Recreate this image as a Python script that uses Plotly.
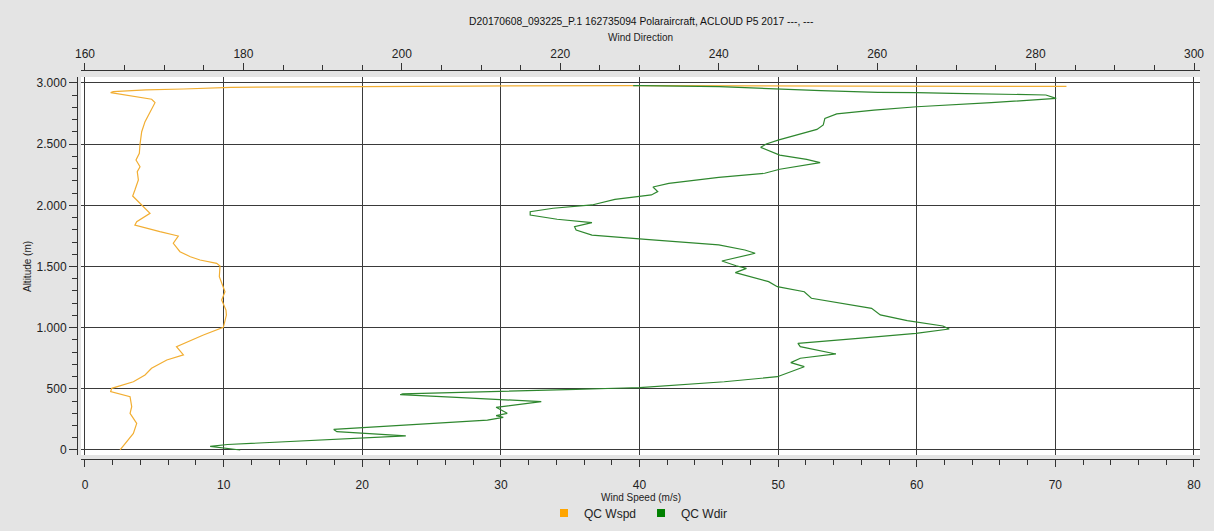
import plotly.graph_objects as go

# ---------------- data ----------------
wspd_alt = [0, 68, 136, 218, 300, 354, 436, 477, 504, 558, 613, 668, 736, 777, 845, 940,
            1003, 1103, 1144, 1226, 1294, 1417, 1504, 1526, 1553, 1580, 1621, 1690, 1749,
            1785, 1839, 1866, 1935, 2003, 2076, 2125, 2207, 2275, 2316, 2371, 2425, 2501,
            2602, 2684, 2766, 2839, 2867, 2894, 2921, 2929, 2943, 2951, 2965, 2975, 2978,
            2975, 2972]
wspd = [2.53, 3.0, 3.49, 3.73, 3.25, 3.37, 3.25, 1.85, 1.93, 3.49, 4.33, 4.8, 5.9, 7.1, 6.6,
        8.54, 9.98, 10.2, 10.17, 9.86, 10.1, 9.69, 9.74, 9.5, 8.3, 7.6, 6.85, 6.37, 6.73,
        5.4, 3.6, 3.73, 4.69, 4.09, 3.44, 3.6, 3.85, 3.77, 3.97, 3.68, 3.92, 3.97,
        4.09, 4.33, 4.69, 5.05, 4.81, 3.25, 1.85, 2.04, 4.4, 7.1, 10.5, 27.8, 39.3,
        55.0, 70.8]

wdir_alt = [0, 30, 45, 115, 150, 168, 245, 267, 281, 300, 349, 395, 431, 452, 458, 477, 496,
            507, 510, 558, 599, 681, 714, 750, 785, 845, 872, 913, 954, 989, 1014, 1057,
            1104, 1158, 1240, 1294, 1335, 1376, 1422, 1450, 1485, 1506, 1545, 1567, 1608,
            1635, 1676, 1722, 1757, 1798, 1825, 1858, 1886, 1921, 1948, 1976, 2003, 2049,
            2085, 2112, 2150, 2180, 2229, 2262, 2295, 2349, 2376, 2411, 2474, 2501, 2535,
            2621, 2657, 2711, 2747, 2779, 2806, 2839, 2874, 2902, 2910, 2916, 2921, 2924,
            2937, 2956, 2970, 2978, 2978]
wdir = [179.6, 175.8, 178.0, 200.5, 191.8, 191.4, 210.8, 212.8, 211.9, 213.3, 211.9, 217.6,
        206.9, 199.8, 200.1, 213.0, 222.0, 228.0, 230.0, 240.7, 247.4, 250.8, 249.1, 250.3,
        254.8, 250.3, 250.0, 257.6, 264.9, 269.1, 268.3, 263.8, 260.4, 259.3, 251.7, 250.8,
        247.4, 246.3, 243.5, 242.1, 243.5, 242.2, 240.4, 241.9, 244.6, 243.3, 240.0, 230.8,
        224.0, 222.0, 221.8, 224.0, 219.6, 216.2, 216.2, 219.1, 224.0, 226.9, 231.5, 232.3,
        231.7, 233.7, 240.0, 245.8, 247.7, 252.8, 251.1, 247.7, 245.3, 246.0, 247.6, 252.4,
        253.2, 253.4, 254.9, 259.6, 265.0, 274.4, 282.6, 281.3, 276.4, 269.5, 265.0, 260.1,
        252.9, 244.8, 240.1, 230.2, 229.2]

alt_ticks = [0, 500, 1000, 1500, 2000, 2500, 3000]
alt_ticktext = ["0", "500", "1.000", "1.500", "2.000", "2.500", "3.000"]

title_text = "D20170608_093225_P.1 162735094 Polaraircraft, ACLOUD P5 2017 ---, ---"

FONT = "Arial, Liberation Sans, sans-serif"
AX = "#333333"
GRID = "#3a3a3a"
BG = "#e4e4e4"

fig = go.Figure()

fig.add_trace(go.Scatter(x=wspd, y=wspd_alt, mode="lines", xaxis="x", yaxis="y",
                         line=dict(color="#F2AE32", width=1.2), showlegend=False,
                         hoverinfo="skip"))
fig.add_trace(go.Scatter(x=wdir, y=wdir_alt, mode="lines", xaxis="x2", yaxis="y",
                         line=dict(color="#2E872E", width=1.2), showlegend=False,
                         hoverinfo="skip"))
# legend entries
fig.add_trace(go.Scatter(x=[None], y=[None], mode="markers", name="QC Wspd",
                         marker=dict(symbol="square", size=8, color="#FFA500")))
fig.add_trace(go.Scatter(x=[None], y=[None], mode="markers", name="QC Wdir",
                         marker=dict(symbol="square", size=8, color="#008000")))

tickfont = dict(family=FONT, size=12, color="#222222")

fig.update_layout(
    template="none",
    width=1214, height=531,
    margin=dict(l=77, r=14, t=70, b=72, autoexpand=False),
    paper_bgcolor=BG,
    plot_bgcolor="white",
    font=dict(family=FONT, color="#222222"),
    showlegend=True,
    legend=dict(orientation="h", xref="paper", yref="container",
                x=0.5, xanchor="center", y=0.034, yanchor="middle",
                font=dict(family=FONT, size=12, color="#222222"),
                bgcolor="rgba(0,0,0,0)", itemwidth=30),
    xaxis=dict(domain=[0.00356, 1], anchor="free", position=0,
               range=[-0.2886, 80.433], tickmode="linear", tick0=0, dtick=10,
               ticks="outside", ticklen=7, tickcolor=AX, tickwidth=1,
               showline=True, linecolor=AX, linewidth=1, automargin=False,
               showgrid=True, gridcolor=GRID, gridwidth=1, zeroline=False,
               tickfont=tickfont, ticklabelstandoff=8,
               minor=dict(dtick=2, ticks="outside", ticklen=5, tickcolor=AX, showgrid=False)),
    xaxis2=dict(overlaying="x", side="top", anchor="free", position=1,
                range=[159.495, 300.757], tickmode="linear", tick0=160, dtick=20,
                ticks="outside", ticklen=7, tickcolor=AX, tickwidth=1,
                showline=True, linecolor=AX, linewidth=1, automargin=False,
                showgrid=False, zeroline=False, tickfont=tickfont,
                minor=dict(dtick=5, ticks="outside", ticklen=5, tickcolor=AX, showgrid=False)),
    yaxis=dict(domain=[0.01028, 0.98201], anchor="free", position=0,
               range=[-40.87, 3049.05], tickmode="array", tickvals=alt_ticks,
               ticktext=alt_ticktext, automargin=False,
               ticks="outside", ticklen=8, tickcolor=AX, tickwidth=1,
               showline=True, linecolor=AX, linewidth=1,
               showgrid=True, gridcolor=GRID, gridwidth=1, zeroline=False,
               tickfont=tickfont,
               minor=dict(dtick=100, ticks="outside", ticklen=5, tickcolor=AX, showgrid=False)),
    annotations=[
        dict(text=title_text, xref="paper", yref="paper", x=0.5022, y=1.1234,
             xanchor="center", yanchor="middle", showarrow=False,
             font=dict(family=FONT, size=10.3, color="#111111")),
        dict(text="Wind Direction", xref="paper", yref="paper", x=0.5022, y=1.0823,
             xanchor="center", yanchor="middle", showarrow=False,
             font=dict(family=FONT, size=10, color="#222222")),
        dict(text="Wind Speed (m/s)", xref="paper", yref="paper", x=0.5022, y=-0.0977,
             xanchor="center", yanchor="middle", showarrow=False,
             font=dict(family=FONT, size=10, color="#222222")),
        dict(text="Altitude (m)", xref="paper", yref="paper", x=-0.0436, y=0.4936,
             xanchor="center", yanchor="middle", showarrow=False, textangle=-90,
             font=dict(family=FONT, size=10, color="#222222")),
    ],
)

fig.write_html("out.html")
